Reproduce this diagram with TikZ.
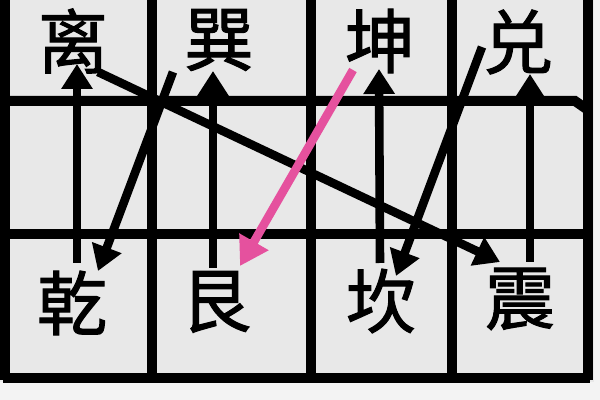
\documentclass[tikz,border=0pt]{standalone}
\usepackage{fontspec}
\newfontfamily\cjk[FakeBold=1.5]{Noto Sans CJK SC}
\usetikzlibrary{arrows.meta}
\definecolor{bggray}{HTML}{E8E8E8}
\definecolor{bglight}{HTML}{F3F3F3}
\definecolor{hotpink}{HTML}{E5519E}
\begin{document}
\begin{tikzpicture}[x=0.5pt,y=-0.5pt,
  gridline/.style={line width=5pt,black},
  arr/.style={line width=4.3pt,black,-{Triangle[width=15pt,length=12.5pt]}},
  parr/.style={line width=4.3pt,hotpink,-{Triangle[width=16pt,length=14pt]}},
  gua/.style={font=\cjk\fontsize{35}{35}\selectfont,inner sep=0pt,anchor=center}]
\useasboundingbox (0,0) rectangle (600,400);
\fill[bglight] (0,0) rectangle (600,400);
\fill[bggray] (0,0) rectangle (594,382);
% grid
\draw[gridline] (5,0) -- (5,380);
\draw[gridline] (152,0) -- (152,380);
\draw[gridline] (311,0) -- (311,380);
\draw[gridline] (452,0) -- (452,380);
\draw[gridline] (588,0) -- (588,380);
\draw[gridline] (3,101) -- (575,101) -- (588,110);
\draw[gridline] (3,234) -- (590,234);
\draw[gridline] (3,378) -- (590,378);
% characters
\node[gua] (li) at (73,41) {离};
\node[gua] (xun) at (219,40) {巽};
\node[gua] (kun) at (380,41) {坤};
\node[gua] (dui) at (518,42) {兑};
\node[gua] (qian) at (72,303) {乾};
\node[gua] (gen) at (216,302) {艮};
\node[gua] (kan) at (381,301) {坎};
\node[gua] (zhen) at (520,299) {震};
% arrow ends
\coordinate (a1s) at (77,263);  \coordinate (a1e) at (77,64);
\coordinate (a2s) at (213,268); \coordinate (a2e) at (213,71);
\coordinate (a3s) at (380,263); \coordinate (a3e) at (379,69);
\coordinate (a4s) at (530,262); \coordinate (a4e) at (530,74);
\coordinate (d1s) at (98,72);   \coordinate (d1e) at (500,262);
\coordinate (d2s) at (173,72);  \coordinate (d2e) at (98,271);
\coordinate (d3s) at (482,47);  \coordinate (d3e) at (396,276);
\coordinate (d4s) at (353,70);  \coordinate (d4e) at (240,266);
\draw[arr] (a1s) -- (a1e);
\draw[arr] (a2s) -- (a2e);
\draw[arr] (a3s) -- (a3e);
\draw[arr] (a4s) -- (a4e);
\draw[arr] (d1s) -- (d1e);
\draw[arr] (d2s) -- (d2e);
\draw[arr] (d3s) -- (d3e);
\draw[parr] (d4s) -- (d4e);
\end{tikzpicture}
\end{document}
